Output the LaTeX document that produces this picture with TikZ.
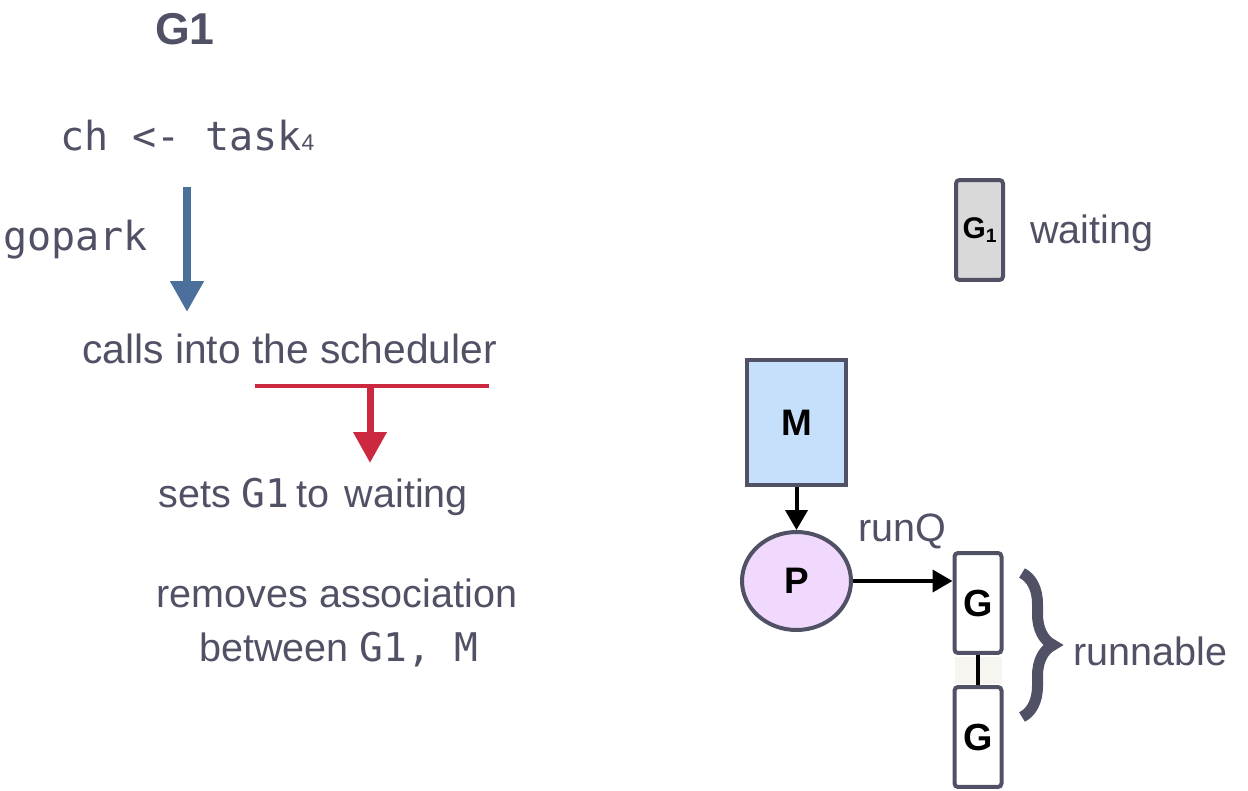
\documentclass[tikz,border=0pt]{standalone}
\usepackage{fontspec}
\setmainfont{Liberation Sans}
\setmonofont{DejaVu Sans Mono}
\usetikzlibrary{arrows.meta,shapes.geometric,decorations.pathreplacing}
\definecolor{inkgray}{RGB}{80,81,101}
\definecolor{parkblue}{RGB}{74,112,155}
\definecolor{schedred}{RGB}{204,41,64}
\definecolor{mblue}{RGB}{198,224,252}
\definecolor{plilac}{RGB}{240,217,252}
\definecolor{waitgray}{RGB}{217,217,217}
\definecolor{linkbeige}{RGB}{247,245,240}

\begin{document}
\begin{tikzpicture}[x=0.02cm, y=-0.02cm,
	desc/.style={text=inkgray, font=\fontsize{22.5}{31}\selectfont, inner sep=0pt},
	code/.style={text=inkgray, font=\ttfamily\fontsize{22.8}{27}\selectfont, inner sep=0pt},
	gbox/.style={draw=inkgray, line width=0.08cm, rounded corners=2pt, minimum width=0.94cm, minimum height=2cm, inner sep=0pt, font=\bfseries\fontsize{21.5}{24}\selectfont},
	flow/.style={-{Triangle[length=0.62cm, width=0.64cm]}},
	link/.style={-{Triangle[length=0.4cm, width=0.44cm]}, line width=0.08cm},
	qbrace/.style={decorate, decoration={brace, amplitude=0.62cm}, line width=0.22cm, inkgray}]
	\useasboundingbox (0,0) rectangle (1248,791);
	\node[text=inkgray, font=\bfseries\fontsize{25.4}{28}\selectfont] (title) at (185,29) {G1};
	\node[code, anchor=base west] (send) at (60,150) {ch <- task{\rmfamily\fontsize{13}{13}\selectfont 4}};
	\node[code, anchor=base west] (gopark) at (3,250) {gopark};
	\coordinate (parktop) at (187,187);
	\coordinate (parktip) at (187,312);
	\draw[flow, parkblue, line width=0.16cm] (parktop) -- (parktip);
	\node[desc, anchor=base west, font=\fontsize{23.2}{31}\selectfont] (calls) at (82,363) {calls into the scheduler};
	\coordinate (schedl) at (255,386);
	\coordinate (schedr) at (489,386);
	\coordinate (schedmid) at (370,386);
	\coordinate (waittip) at (370,463);
	\draw[schedred, line width=0.09cm] (schedl) -- (schedr);
	\draw[flow, schedred, line width=0.14cm] (schedmid) -- (waittip);
	\node[desc, anchor=base west] (sets) at (158,507) {sets \texttt{G1}\,to\hspace{0.4em}waiting};
	\node[desc, anchor=base] (removes) at (337,607) {removes association};
	\node[desc, anchor=base] (between) at (339,661) {between \texttt{G1, M}};
	\node[gbox, fill=waitgray, font=\bfseries\fontsize{17}{20}\selectfont] (g1) at (979.5,230) {G\raisebox{-2pt}{\fontsize{11}{11}\selectfont 1}};
	\node[desc, anchor=base west] (waiting) at (1030,243) {waiting};
	\node[draw=inkgray, fill=mblue, line width=0.08cm, minimum width=1.98cm, minimum height=2.5cm, inner sep=0pt, font=\bfseries\fontsize{21}{24}\selectfont] (m) at (796.5,422.5) {M};
	\node[ellipse, draw=inkgray, fill=plilac, line width=0.08cm, minimum width=2.18cm, minimum height=1.96cm, inner sep=0pt, font=\bfseries\fontsize{21}{24}\selectfont] (p) at (796.5,581) {P};
	\node[desc, anchor=base] (runq) at (902,541) {runQ};
	\node[fill=linkbeige, minimum width=0.94cm, minimum height=0.54cm, inner sep=0pt] (gap) at (978,670) {};
	\node[gbox, fill=white] (ga) at (978,603) {G};
	\node[gbox, fill=white] (gb) at (978,737) {G};
	\draw[line width=0.08cm] (ga) -- (gb);
	\draw[link] (m) -- (p);
	\draw[link] (p.east) -- (p.east -| ga.west);
	\draw[qbrace] (1022,573) -- (1022,717);
	\node[desc, anchor=base west] (runnable) at (1073,665) {runnable};
\end{tikzpicture}
\end{document}
